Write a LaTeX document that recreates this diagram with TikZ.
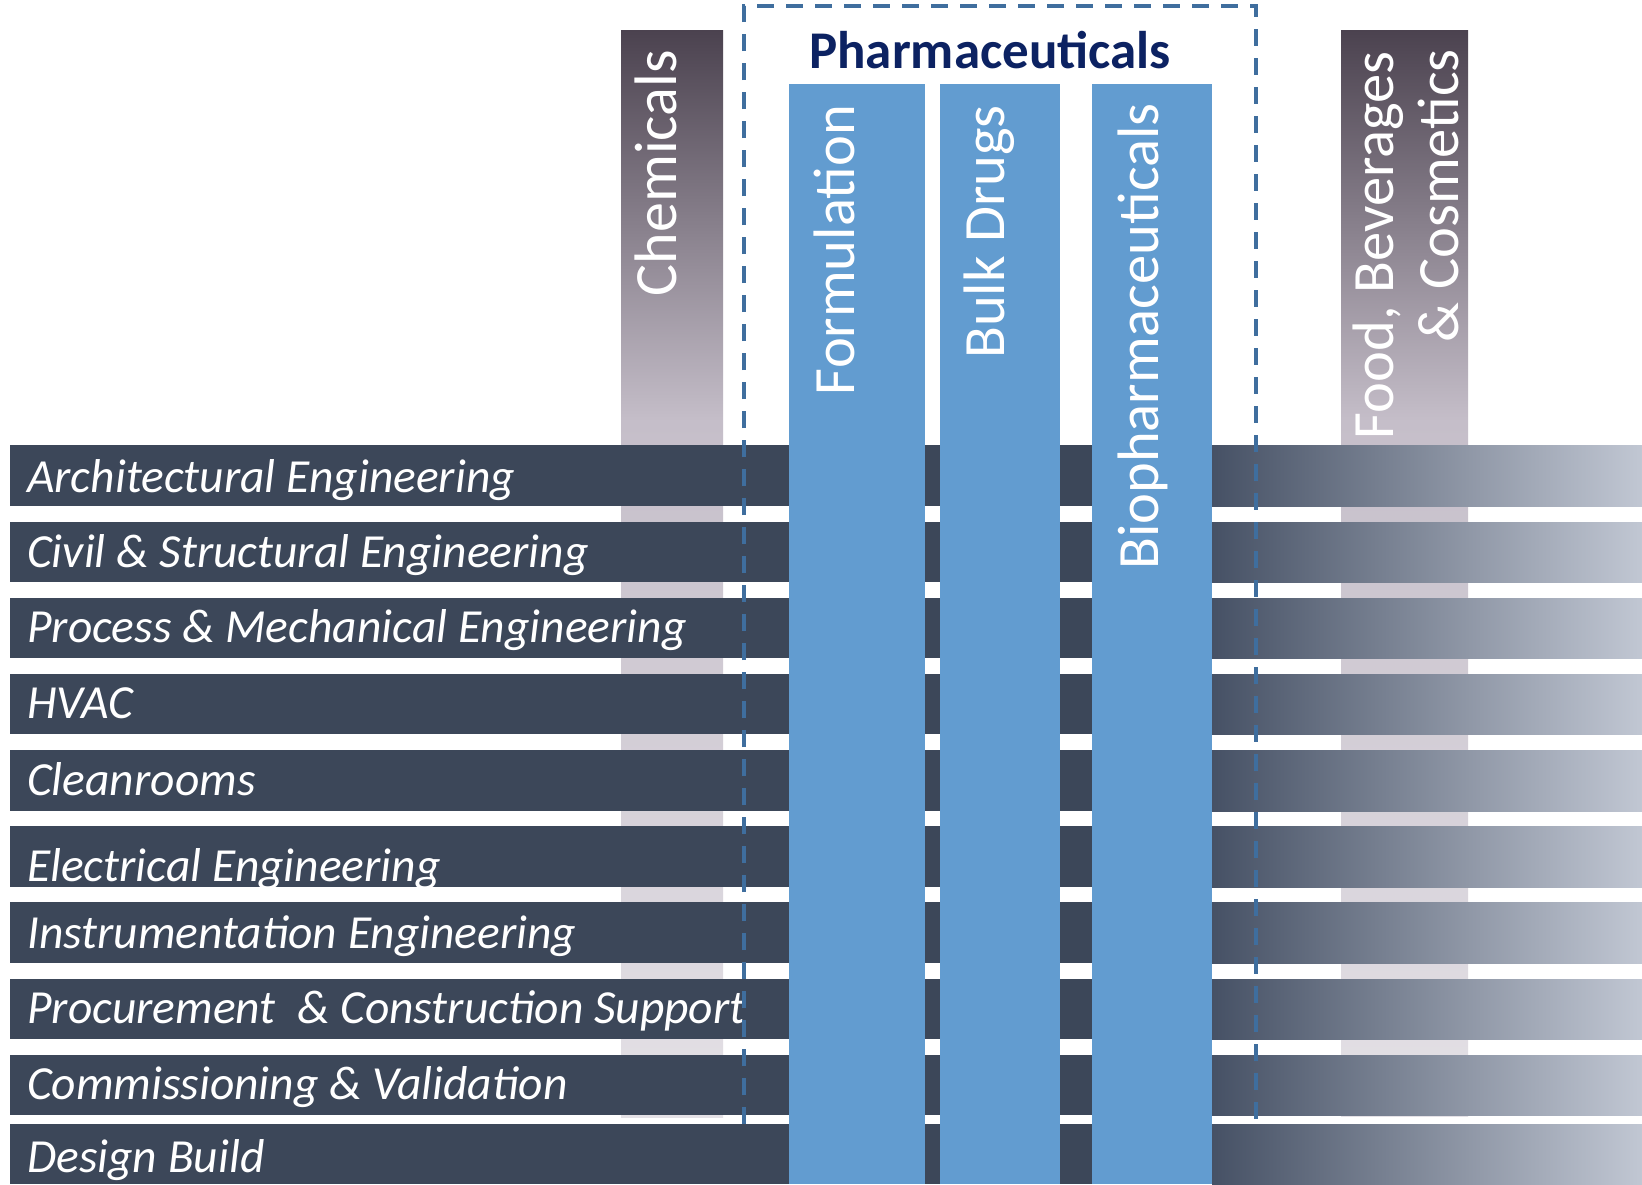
\documentclass[tikz,border=0pt]{standalone}
\usepackage{fontspec}
\setmainfont{Carlito}
\definecolor{rowdark}{HTML}{3C4759}
\definecolor{barblue}{HTML}{629CD0}
\definecolor{pharmanavy}{HTML}{0C2262}
\definecolor{dashblue}{HTML}{3F6E9E}
\definecolor{fadeA}{HTML}{465165}
\definecolor{fadeB}{HTML}{C1C7D3}
\definecolor{purpTop}{HTML}{4B424F}
\definecolor{purpMid}{HTML}{C5BEC9}
\definecolor{purpBot}{HTML}{E4E1E6}
\pgfdeclareverticalshading{industryshade}{100bp}{color(0bp)=(purpBot); color(25bp)=(purpBot); color(57bp)=(purpMid); color(75bp)=(purpTop); color(100bp)=(purpTop)}
\tikzset{
  rowlabel/.style={anchor=base west, inner sep=0pt, text=white, font=\fontsize{47.5}{56}\selectfont\itshape},
  vlabel/.style={rotate=90, anchor=base east, inner sep=0pt, text=white, font=\fontsize{58.5}{66}\selectfont},
  industrybar/.style={shading=industryshade},
  rowfill/.style={fill=rowdark},
  bluebar/.style={fill=barblue},
  pharmabox/.style={draw=dashblue, line width=3.5pt, dash pattern=on 17pt off 12pt}
}
\begin{document}
\begin{tikzpicture}[x=1pt,y=-1pt]
\useasboundingbox (0,0) rectangle (1642,1184);
\fill[white] (0,0) rectangle (1642,1184);
% industry bars behind rows
\shade[industrybar] (621,30) rectangle (723,1117);
\shade[industrybar] (1341,30) rectangle (1468,1116);
% rows
\foreach \t/\b in {445/506,522/582,598/658,674/734,750/811,826/887,902/963,979/1039,1055/1115}{
  \fill[rowfill] (10,\t) rectangle (1212,\b);
  \shade[left color=fadeA, right color=fadeB] (1212,\t) rectangle (1642,\b);
}
% row labels
\node[rowlabel] (r1) at (27,492) {Architectural Engineering};
\node[rowlabel] (r2) at (27,567) {Civil \& Structural Engineering};
\node[rowlabel] (r3) at (27,642) {Process \& Mechanical Engineering};
\node[rowlabel] (r4) at (27,718) {HVAC};
\node[rowlabel] (r5) at (27,795) {Cleanrooms};
\begin{scope}
\clip (10,826) rectangle (1212,887);
\node[rowlabel] (r6) at (27,881) {Electrical Engineering};
\end{scope}
\node[rowlabel] (r7) at (27,948) {Instrumentation Engineering};
\node[rowlabel] (r8) at (27,1023) {Procurement~ \& Construction Support};
\node[rowlabel] (r9) at (27,1099) {Commissioning \& Validation};
% pharmaceuticals dashed frame
\draw[pharmabox] (744,1124) -- (744,6) -- (1256,6) -- (1256,1124);
% last row
\fill[rowfill] (10,1124) rectangle (1212,1184);
\shade[left color=fadeA, right color=fadeB] (1212,1124) rectangle (1642,1184);
\node[rowlabel] (r10) at (27,1172) {Design Build};
% blue bars
\fill[bluebar] (789,84) rectangle (925,1184);
\fill[bluebar] (940,84) rectangle (1060,1184);
\fill[bluebar] (1092,84) rectangle (1212,1184);
% vertical labels
\node[vlabel, font=\fontsize{60}{66}\selectfont] (chem) at (676,50) {Chemicals};
\node[vlabel] (form) at (854,105) {Formulation};
\node[vlabel] (bulk) at (1004,105) {Bulk Drugs};
\node[vlabel] (bio) at (1158,103) {Biopharmaceuticals};
\node[vlabel] (food1) at (1393,51) {Food,\ Beverages};
\node[vlabel] (food2) at (1458,49) {\& Cosmetics};
% title
\node[anchor=base, inner sep=0pt, text=pharmanavy, font=\fontsize{53}{60}\selectfont\bfseries] (pharma) at (990,68) {Pharmaceuticals};
\end{tikzpicture}
\end{document}
